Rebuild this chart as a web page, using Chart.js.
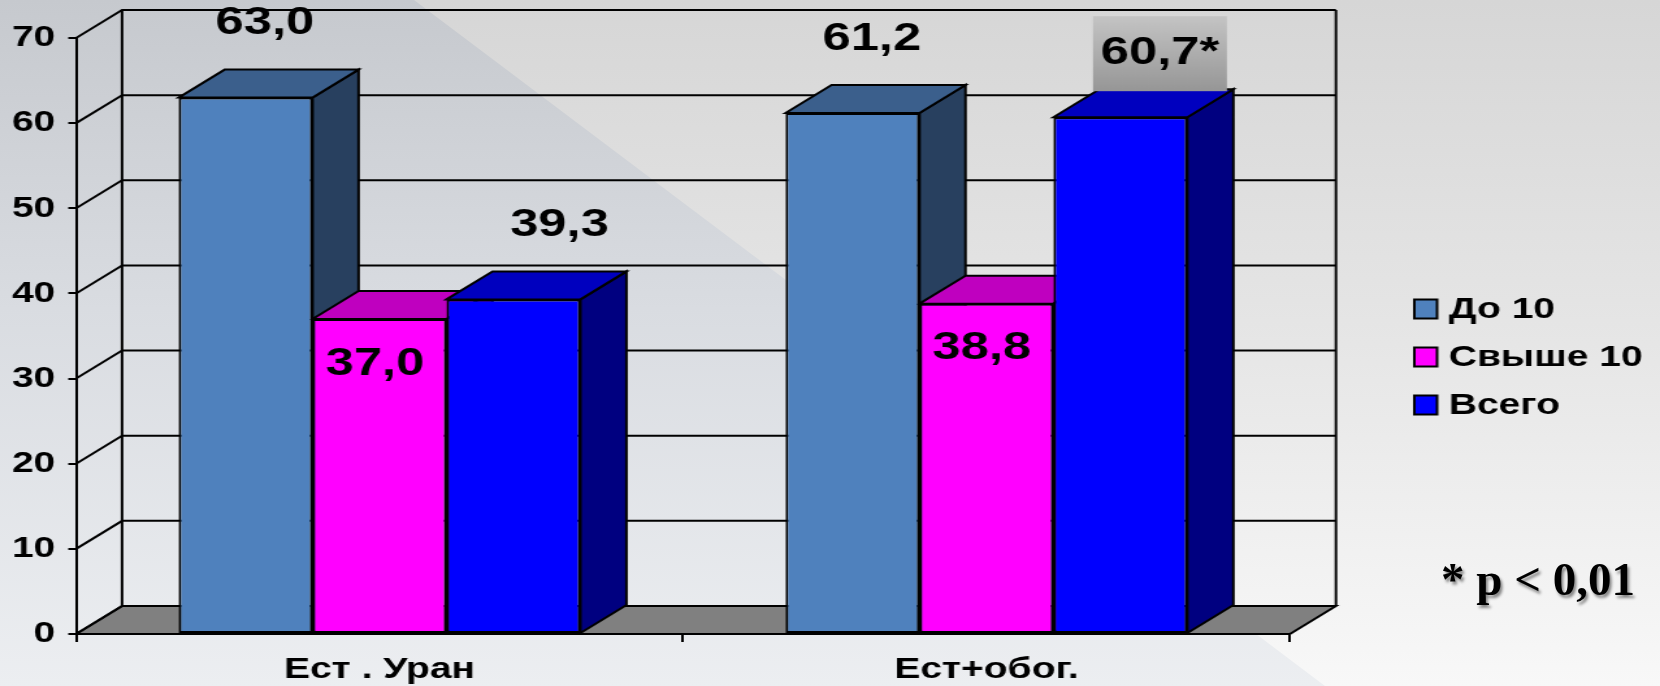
<!DOCTYPE html>
<html lang="ru">
<head>
<meta charset="utf-8">
<script src="https://cdn.jsdelivr.net/npm/chart.js@4.4.1/dist/chart.umd.min.js"></script>
<style>
  html, body { margin: 0; padding: 0; width: 1660px; height: 686px; overflow: hidden; }
  #slide { position: relative; width: 1660px; height: 686px; background: linear-gradient(to bottom, #d6d6d6 0%, #e6e6e6 50%, #f8f8f8 100%); }
  #slide .band { position: absolute; inset: 0; background: linear-gradient(to bottom, #c6c9ce 0%, #d9dce1 45%, #eceef1 100%); clip-path: polygon(0 0, 414px 0, 1325px 686px, 0 686px); }
  #chart { position: absolute; left: 0; top: 0; }
  #note { position: absolute; left: 1441px; top: 552px; line-height: 47px; white-space: nowrap;
          font: bold 47px "Liberation Serif", "Times New Roman", serif; color: #000;
          text-shadow: 2px 3px 3px rgba(0,0,0,0.45); }
</style>
</head>
<body>
<div id="slide">
  <div class="band"></div>
  <!-- drawn narrow and widened by css, like the original slide -->
  <canvas id="chart" width="1277" height="686" style="width:1660px;height:686px"></canvas>
  <div id="note"></div>
</div>
<script>
const categories = ['Ест . Уран', 'Ест+обог.'];
const seriesLabels = ['До 10', 'Свыше 10', 'Всего'];
const upTo10 = [63.0, 61.2];
const over10 = [37.0, 38.8];
const total = [39.3, 60.7];
const totalFlags = ['', '*'];
const yMin = 0, yMax = 70, yStep = 10;
const noteText = '* p < 0,01';

const FONT = '"Liberation Sans", Arial, sans-serif';
const DX = 35.4, DY = 28; // depth of the 3d boxes

const faces = [
  { front: '#4F81BD', top: '#3B5F8C', side: '#28405F' },
  { front: '#FF00FF', top: '#BF00BF', side: '#800080' },
  { front: '#0000FF', top: '#0000BF', side: '#000080' },
];

const fmt = v => v.toFixed(1).replace('.', ',');

function poly(ctx, pts, fill) {
  ctx.beginPath();
  ctx.moveTo(pts[0][0], pts[0][1]);
  for (let i = 1; i < pts.length; i++) ctx.lineTo(pts[i][0], pts[i][1]);
  ctx.closePath();
  if (fill) { ctx.fillStyle = fill; ctx.fill(); }
  ctx.stroke();
}

const box3d = {
  id: 'box3d',
  // floor, side wall and back wall with its grid
  beforeDraw(chart) {
    const { ctx, chartArea: { left, right, top, bottom } } = chart;
    const ys = chart.scales.y;
    ctx.save();
    ctx.strokeStyle = '#000'; ctx.lineWidth = 2; ctx.lineJoin = 'miter';
    poly(ctx, [[left, bottom], [left + DX, bottom - DY], [right + DX, bottom - DY], [right, bottom]], '#808080');
    ys.ticks.forEach(t => {
      const py = ys.getPixelForValue(t.value);
      ctx.beginPath();
      ctx.moveTo(left, py); ctx.lineTo(left + DX, py - DY); ctx.lineTo(right + DX, py - DY);
      ctx.stroke();
    });
    ctx.beginPath();
    ctx.moveTo(left + DX, top - DY); ctx.lineTo(left + DX, bottom - DY);
    ctx.moveTo(right + DX, top - DY); ctx.lineTo(right + DX, bottom - DY);
    ctx.stroke();
    ctx.restore();
  },
  // tops and right sides, fronts come from the bar elements
  beforeDatasetsDraw(chart) {
    const { ctx } = chart;
    ctx.save();
    ctx.strokeStyle = '#000'; ctx.lineWidth = 2;
    categories.forEach((c, j) => {
      chart.data.datasets.forEach((ds, i) => {
        const b = chart.getDatasetMeta(i).data[j];
        const l = b.x - b.width / 2, r = b.x + b.width / 2;
        poly(ctx, [[r, b.base], [r + DX, b.base - DY], [r + DX, b.y - DY], [r, b.y]], faces[i].side);
        poly(ctx, [[l, b.y], [l + DX, b.y - DY], [r + DX, b.y - DY], [r, b.y]], faces[i].top);
      });
    });
    ctx.restore();
  },
  afterDraw(chart) {
    const { ctx } = chart;
    ctx.save();
    ctx.textAlign = 'center'; ctx.textBaseline = 'middle';
    ctx.font = `bold 39px ${FONT}`;
    chart.data.datasets.forEach((ds, i) => {
      chart.getDatasetMeta(i).data.forEach((b, j) => {
        const text = fmt(ds.data[j]) + (ds.flags ? ds.flags[j] : '');
        ctx.fillStyle = '#000';
        if (ds.labelPlace === 'inside') {
          ctx.fillText(text, b.x - DX * 0.1, b.y + 45);
          return;
        }
        if (ds.flags && ds.flags[j]) {
          const bx = b.x - b.width / 2 + DX * 0.86, bh = 75, by = b.y - DY + 2 - bh;
          const g = ctx.createLinearGradient(0, by, 0, by + bh);
          g.addColorStop(0, '#c4c4c4'); g.addColorStop(1, '#969696');
          ctx.fillStyle = g;
          ctx.fillRect(bx, by, b.width, bh);
          ctx.fillStyle = '#000';
          ctx.fillText(text, bx + b.width / 2, by + bh / 2);
          return;
        }
        ctx.fillText(text, b.x + DX * ds.labelShift, b.y - DY - 46);
      });
    });

    // legend
    ctx.textAlign = 'left';
    ctx.font = `bold 30px ${FONT}`;
    ctx.strokeStyle = '#000'; ctx.lineWidth = 2;
    chart.data.datasets.forEach((ds, i) => {
      const cy = 309 + i * 48;
      ctx.fillStyle = ds.backgroundColor;
      ctx.fillRect(1088, cy - 9.5, 17.5, 19);
      ctx.strokeRect(1088, cy - 9.5, 17.5, 19);
      ctx.fillStyle = '#000';
      ctx.fillText(ds.label, 1114.5, cy + 1);
    });
    ctx.restore();
  }
};

const datasets = [upTo10, over10, total].map((data, i) => ({
  label: seriesLabels[i],
  data,
  backgroundColor: faces[i].front,
  borderColor: '#000',
  borderWidth: 2,
  borderSkipped: false,
  labelPlace: i === 1 ? 'inside' : 'above',
  labelShift: i === 2 ? 1.0 : 0.42,
  flags: i === 2 ? totalFlags : null,
}));

document.getElementById('note').textContent = noteText;

new Chart(document.getElementById('chart'), {
  type: 'bar',
  data: { labels: categories, datasets },
  options: {
    responsive: false,
    animation: false,
    devicePixelRatio: 1,
    datasets: { bar: { categoryPercentage: 0.662, barPercentage: 1 } },
    layout: { padding: { top: 38, right: 1277 - 992.3, bottom: 0, left: 0 } },
    plugins: { legend: { display: false }, tooltip: { enabled: false } },
    scales: {
      x: {
        offset: true,
        grid: { offset: true, drawOnChartArea: false, tickLength: 8, color: '#000', lineWidth: 2 },
        border: { display: true, color: '#000', width: 2 },
        ticks: { color: '#000', padding: 10, maxRotation: 0, font: { family: FONT, size: 30, weight: 'bold' } },
        afterFit: s => { s.height = 52; },
      },
      y: {
        min: yMin, max: yMax,
        grid: { drawOnChartArea: false, tickLength: 6, color: '#000', lineWidth: 2 },
        border: { display: true, color: '#000', width: 2 },
        ticks: { stepSize: yStep, color: '#000', padding: 10, font: { family: FONT, size: 30, weight: 'bold' } },
        afterFit: s => { s.width = 58.5; },
      }
    }
  },
  plugins: [box3d]
});
</script>
</body>
</html>
